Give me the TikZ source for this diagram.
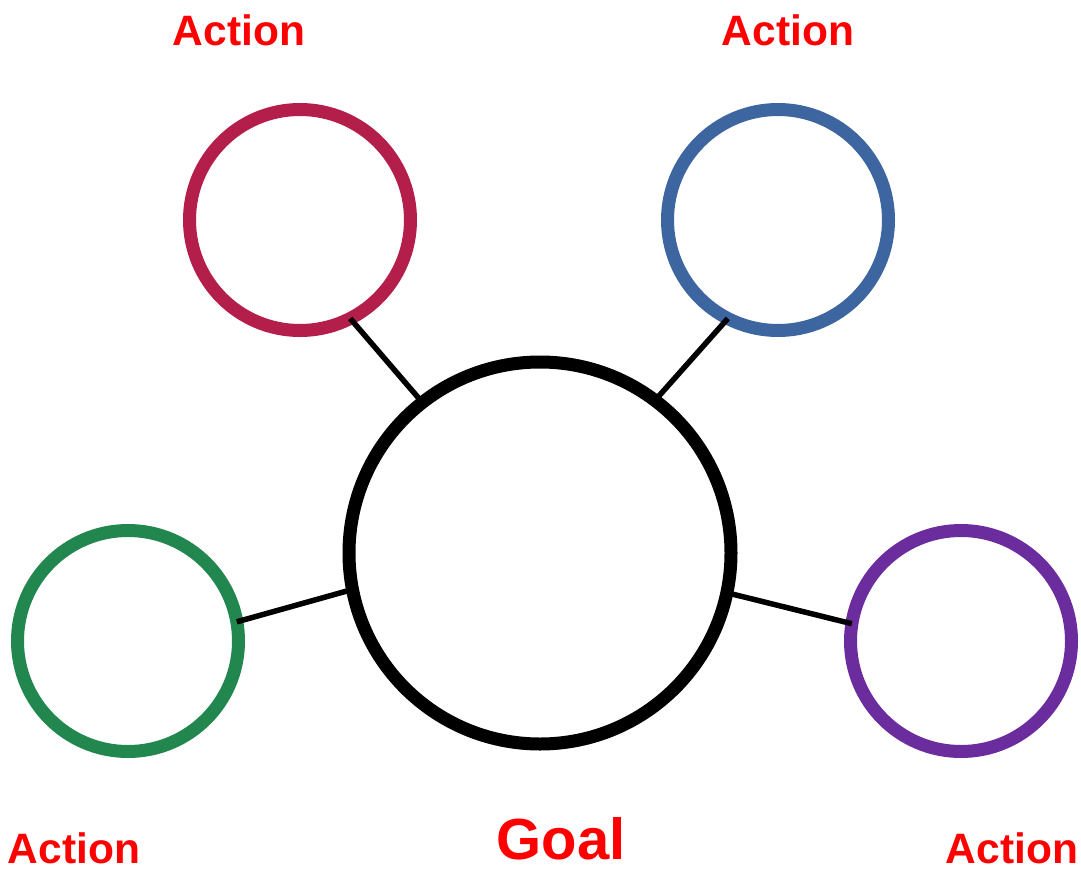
\documentclass[tikz,border=0pt]{standalone}
\usepackage{fontspec}
\setmainfont{Liberation Sans}
\definecolor{cCrimson}{HTML}{B41E4B}
\definecolor{cBlue}{HTML}{3D65A0}
\definecolor{cGreen}{HTML}{21874F}
\definecolor{cPurple}{HTML}{6B2C9E}
\definecolor{cRed}{HTML}{FF0000}
\begin{document}
\begin{tikzpicture}[x=1pt,y=-1pt,
  ring/.style={circle,draw,line width=13pt,minimum size=221pt,inner sep=0pt,outer sep=0pt,fill=white},
  goalring/.style={circle,draw=black,line width=13pt,minimum size=382pt,inner sep=0pt,outer sep=0pt,fill=white},
  link/.style={draw=black,line width=5.5pt},
  actlabel/.style={text=cRed,font=\bfseries\fontsize{42.5}{42.5}\selectfont,inner sep=0pt,anchor=base},
  goallabel/.style={text=cRed,font=\bfseries\fontsize{58}{58}\selectfont,inner sep=0pt,anchor=base}]
\useasboundingbox (0,0) rectangle (1081,870);
\node[goalring] (goal) at (540,553) {};
\node[ring,draw=cCrimson] (a1) at (300,220) {};
\node[ring,draw=cBlue] (a2) at (778,220) {};
\node[ring,draw=cGreen] (a3) at (128,641) {};
\node[ring,draw=cPurple] (a4) at (961,641) {};
\draw[link] (a1.-63) -- (goal.128);
\draw[link] (a2.-117) -- (goal.53);
\draw[link] (a3.10) -- (goal.191);
\draw[link] (a4.171) -- (goal.-12);
\node[actlabel] (t1) at (239,45) {Action};
\node[actlabel] (t2) at (788,45) {Action};
\node[actlabel] (t3) at (74,863) {Action};
\node[actlabel] (t4) at (1012,863) {Action};
\node[goallabel] (tg) at (561,859) {Goal};
\end{tikzpicture}
\end{document}
